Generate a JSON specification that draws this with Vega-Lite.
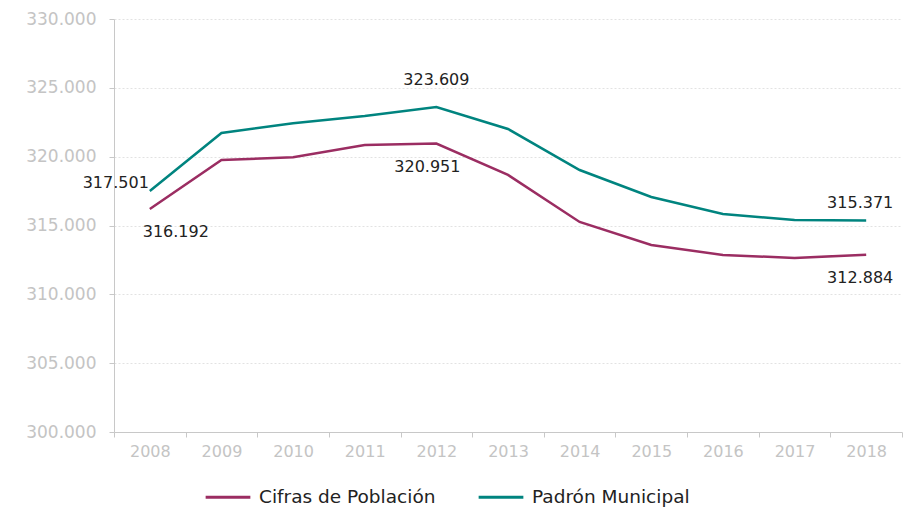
{
  "$schema": "https://vega.github.io/schema/vega-lite/v6.json",
  "width": 788,
  "height": 413,
  "autosize": {"type": "none"},
  "padding": {"left": 114, "top": 19, "right": 4, "bottom": 76},
  "background": "white",
  "config": {
    "locale": {"number": {"decimal": ",", "thousands": ".", "grouping": [3], "currency": ["", " €"]}},
    "font": "DejaVu Sans",
    "view": {"stroke": null}
  },
  "data": {
    "values": [
      {"year": "2008", "serie": "Cifras de Población", "value": 316192},
      {"year": "2009", "serie": "Cifras de Población", "value": 319760},
      {"year": "2010", "serie": "Cifras de Población", "value": 319960},
      {"year": "2011", "serie": "Cifras de Población", "value": 320850},
      {"year": "2012", "serie": "Cifras de Población", "value": 320951},
      {"year": "2013", "serie": "Cifras de Población", "value": 318670},
      {"year": "2014", "serie": "Cifras de Población", "value": 315260},
      {"year": "2015", "serie": "Cifras de Población", "value": 313590},
      {"year": "2016", "serie": "Cifras de Población", "value": 312860},
      {"year": "2017", "serie": "Cifras de Población", "value": 312640},
      {"year": "2018", "serie": "Cifras de Población", "value": 312884},
      {"year": "2008", "serie": "Padrón Municipal", "value": 317501},
      {"year": "2009", "serie": "Padrón Municipal", "value": 321720},
      {"year": "2010", "serie": "Padrón Municipal", "value": 322430},
      {"year": "2011", "serie": "Padrón Municipal", "value": 322960},
      {"year": "2012", "serie": "Padrón Municipal", "value": 323609},
      {"year": "2013", "serie": "Padrón Municipal", "value": 322010},
      {"year": "2014", "serie": "Padrón Municipal", "value": 319030},
      {"year": "2015", "serie": "Padrón Municipal", "value": 317070},
      {"year": "2016", "serie": "Padrón Municipal", "value": 315840},
      {"year": "2017", "serie": "Padrón Municipal", "value": 315400},
      {"year": "2018", "serie": "Padrón Municipal", "value": 315371}
    ]
  },
  "encoding": {
    "x": {
      "field": "year", "type": "ordinal", "bandPosition": 0.5,
      "scale": {"type": "band", "paddingInner": 0, "paddingOuter": 0},
      "axis": {
        "title": null, "labelAngle": 0, "tickBand": "extent",
        "domainColor": "#c8c8c8", "tickColor": "#c8c8c8", "tickSize": 5,
        "labelColor": "#c4c4c4", "labelFontSize": 16, "labelPadding": 6,
        "grid": false
      }
    },
    "y": {
      "field": "value", "type": "quantitative",
      "scale": {"domain": [300000, 330000], "zero": false},
      "axis": {
        "title": null, "values": [300000, 305000, 310000, 315000, 320000, 325000, 330000],
        "format": ",.0f", "labelColor": "#c4c4c4", "labelFontSize": 17,
        "domainColor": "#c8c8c8", "tickColor": "#c8c8c8", "tickSize": 5, "labelPadding": 13,
        "gridColor": "#e2e2e2", "gridDash": [2, 2], "gridWidth": 1
      }
    }
  },
  "layer": [
    {
      "mark": {"type": "line", "strokeWidth": 2.5},
      "encoding": {
        "color": {
          "field": "serie", "type": "nominal",
          "scale": {"domain": ["Cifras de Población", "Padrón Municipal"], "range": ["#9B2D62", "#00847F"]},
          "legend": {
            "title": null, "orient": "none", "legendX": 90, "legendY": 454, "direction": "horizontal",
            "symbolType": "stroke", "symbolSize": 2000, "symbolStrokeWidth": 3, "labelFontSize": 18.5,
            "labelColor": "#222222", "columnPadding": 36, "labelOffset": 7, "labelLimit": 400
          }
        }
      }
    },
    {
      "transform": [{"filter": "datum.serie == 'Cifras de Población' && datum.year == '2008'"}],
      "mark": {"type": "text", "dy": 23, "dx": 26, "fontSize": 16, "color": "#222222"},
      "encoding": {"text": {"field": "value", "type": "quantitative", "format": ",.0f"}}
    },
    {
      "transform": [{"filter": "datum.serie == 'Cifras de Población' && datum.year == '2012'"}],
      "mark": {"type": "text", "dy": 23, "dx": -9, "fontSize": 16, "color": "#222222"},
      "encoding": {"text": {"field": "value", "type": "quantitative", "format": ",.0f"}}
    },
    {
      "transform": [{"filter": "datum.serie == 'Cifras de Población' && datum.year == '2018'"}],
      "mark": {"type": "text", "dy": 23, "dx": -6, "fontSize": 16, "color": "#222222"},
      "encoding": {"text": {"field": "value", "type": "quantitative", "format": ",.0f"}}
    },
    {
      "transform": [{"filter": "datum.serie == 'Padrón Municipal' && datum.year == '2012'"}],
      "mark": {"type": "text", "dy": -27, "fontSize": 16, "color": "#222222"},
      "encoding": {"text": {"field": "value", "type": "quantitative", "format": ",.0f"}}
    },
    {
      "transform": [{"filter": "datum.serie == 'Padrón Municipal' && datum.year == '2018'"}],
      "mark": {"type": "text", "dy": -17, "dx": -6, "fontSize": 16, "color": "#222222"},
      "encoding": {"text": {"field": "value", "type": "quantitative", "format": ",.0f"}}
    },
    {
      "transform": [{"filter": "datum.serie == 'Padrón Municipal' && datum.year == '2008'"}],
      "mark": {"type": "text", "align": "right", "dx": -1, "dy": -8, "fontSize": 16, "color": "#222222"},
      "encoding": {"text": {"field": "value", "type": "quantitative", "format": ",.0f"}}
    }
  ]
}
